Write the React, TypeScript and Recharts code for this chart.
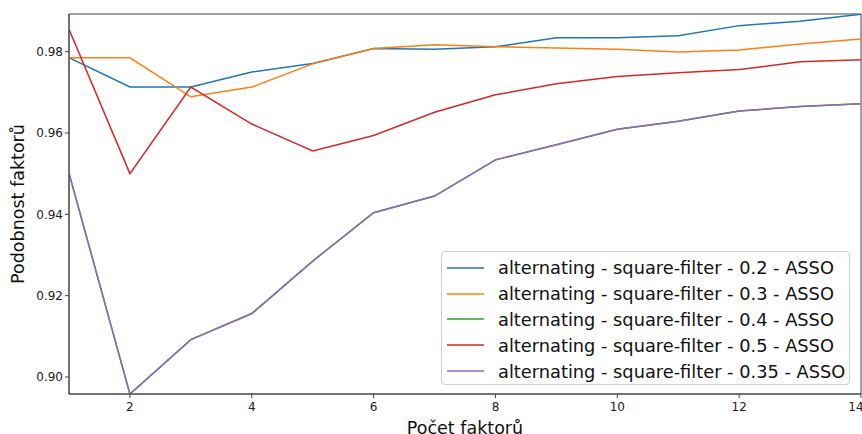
import React from "react";
import {
  LineChart,
  Line,
  XAxis,
  YAxis,
  ReferenceArea,
} from "recharts";

// Number of factors on the x axis
const factors = [1, 2, 3, 4, 5, 6, 7, 8, 9, 10, 11, 12, 13, 14];

// Factor similarity per threshold
const sim02 = [0.9785, 0.9713, 0.9713, 0.975, 0.9771, 0.9808, 0.9806, 0.9812, 0.9834, 0.9834, 0.9839, 0.9864, 0.9875, 0.9892];
const sim03 = [0.9785, 0.9785, 0.9689, 0.9713, 0.977, 0.9808, 0.9817, 0.9812, 0.9809, 0.9806, 0.9799, 0.9804, 0.9819, 0.9831];
const sim04 = [0.9501, 0.8958, 0.9092, 0.9156, 0.9285, 0.9404, 0.9445, 0.9534, 0.9571, 0.9609, 0.9629, 0.9654, 0.9665, 0.9672];
const sim05 = [0.9855, 0.95, 0.9713, 0.9622, 0.9556, 0.9594, 0.9651, 0.9694, 0.9721, 0.9739, 0.9748, 0.9756, 0.9775, 0.978];
const sim035 = [0.9501, 0.8958, 0.9092, 0.9156, 0.9285, 0.9404, 0.9445, 0.9534, 0.9571, 0.9609, 0.9629, 0.9654, 0.9665, 0.9672];

const xTicks = [2, 4, 6, 8, 10, 12, 14];
const yTicks = [0.9, 0.92, 0.94, 0.96, 0.98];
const yDomain: [number, number] = [0.89582, 0.98926];

const series = [
  { key: "s02", name: "alternating - square-filter - 0.2 - ASSO", color: "#1f77b4", values: sim02 },
  { key: "s03", name: "alternating - square-filter - 0.3 - ASSO", color: "#ff7f0e", values: sim03 },
  { key: "s04", name: "alternating - square-filter - 0.4 - ASSO", color: "#2ca02c", values: sim04 },
  { key: "s05", name: "alternating - square-filter - 0.5 - ASSO", color: "#d62728", values: sim05 },
  { key: "s035", name: "alternating - square-filter - 0.35 - ASSO", color: "#9467bd", values: sim035 },
];

const data = factors.map((f, i) => {
  const row: Record<string, number> = { f };
  series.forEach((s) => {
    row[s.key] = s.values[i];
  });
  return row;
});

const FONT = "'DejaVu Sans', sans-serif";

const LegendBox = () => (
  <div
    style={{
      position: "absolute",
      left: 441,
      top: 251,
      width: 409,
      height: 134,
      border: "1px solid #d0d0d0",
      borderRadius: 4,
      background: "rgba(255,255,255,0.85)",
      padding: "3px 0 0 4px",
      fontFamily: FONT,
      fontSize: 17.8,
      color: "#111",
      boxSizing: "border-box",
    }}
  >
    {series.map((s) => (
      <div key={s.key} style={{ display: "flex", alignItems: "center", height: 25.8 }}>
        <svg width={52} height={10} style={{ flex: "none" }}>
          <line x1={1} x2={38} y1={5} y2={5} stroke={s.color} strokeWidth={1.5} />
        </svg>
        <span style={{ whiteSpace: "nowrap" }}>{s.name}</span>
      </div>
    ))}
  </div>
);

export default function App() {
  return (
    <div style={{ position: "absolute", left: 0, top: 0, width: 862, height: 434, background: "#fff" }}>
      <LineChart
        width={862}
        height={434}
        data={data}
        margin={{ top: 14, right: 1, left: 0, bottom: 0 }}
      >
        <XAxis
          dataKey="f"
          type="number"
          domain={[1, 14]}
          ticks={xTicks}
          allowDataOverflow
          height={40}
          tickSize={4}
          tickMargin={4}
          stroke="#444"
          tick={{ fill: "#222", fontSize: 12, fontFamily: FONT }}
          label={{
            value: "Počet faktorů",
            position: "insideBottom",
            offset: 0,
            style: { fill: "#111", fontSize: 17.5, fontFamily: FONT },
          }}
        />
        <YAxis
          type="number"
          domain={yDomain}
          ticks={yTicks}
          allowDataOverflow
          width={69}
          tickSize={4}
          tickMargin={2}
          stroke="#444"
          tickFormatter={(v: number) => v.toFixed(2)}
          tick={{ fill: "#222", fontSize: 12, fontFamily: FONT }}
          label={{
            value: "Podobnost faktorů",
            angle: -90,
            position: "insideLeft",
            offset: 18,
            style: { fill: "#111", fontSize: 17.5, fontFamily: FONT, textAnchor: "middle" },
          }}
        />
        <ReferenceArea
          x1={1}
          x2={14}
          y1={yDomain[0]}
          y2={yDomain[1]}
          fill="none"
          stroke="#444"
          strokeWidth={1}
          ifOverflow="visible"
        />
        {series.map((s) => (
          <Line
            key={s.key}
            dataKey={s.key}
            name={s.name}
            stroke={s.color}
            strokeWidth={1.5}
            dot={false}
            activeDot={false}
            isAnimationActive={false}
          />
        ))}
      </LineChart>
      <LegendBox />
    </div>
  );
}
